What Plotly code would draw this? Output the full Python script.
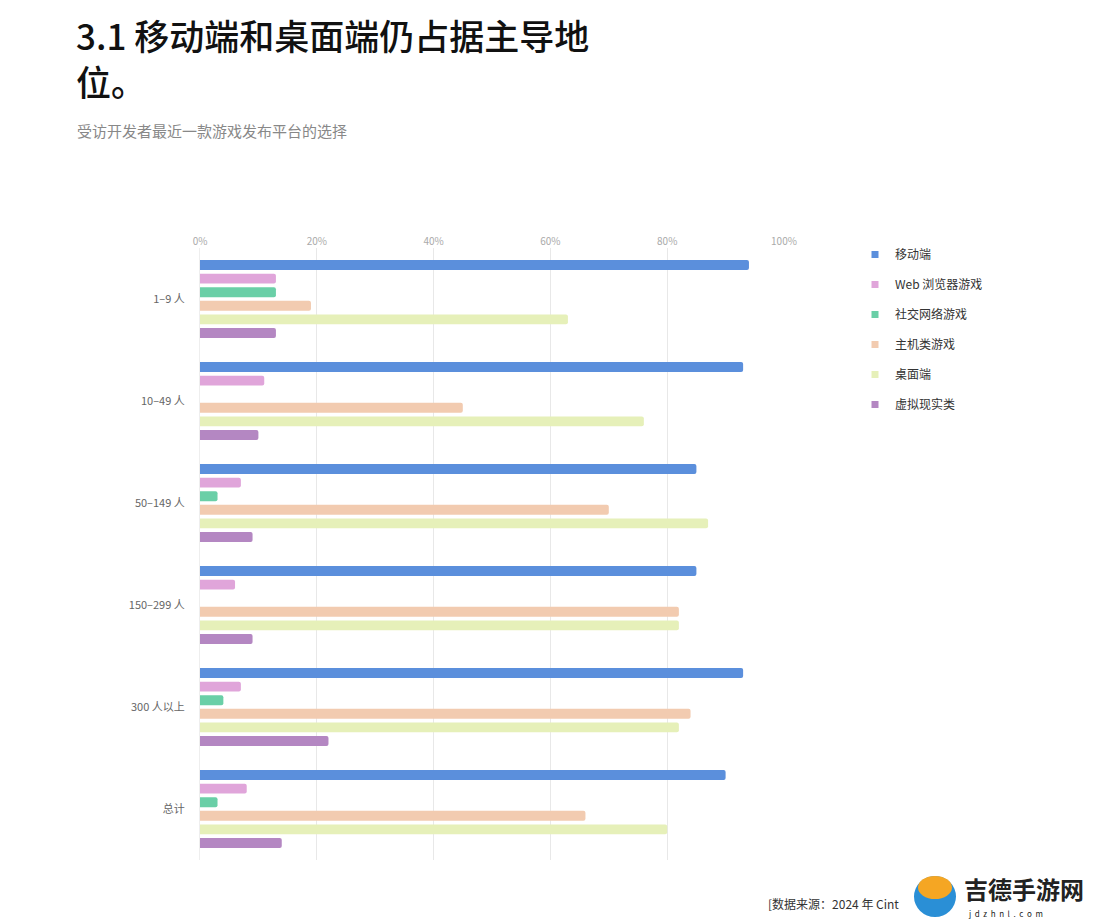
import plotly.graph_objects as go

categories = ["1–9 人", "10–49 人", "50–149 人", "150–299 人", "300 人以上", "总计"]
series_names = ["移动端", "Web 浏览器游戏", "社交网络游戏", "主机类游戏", "桌面端", "虚拟现实类"]
mobile = [94, 93, 85, 85, 93, 90]
web = [13, 11, 7, 6, 7, 8]
social = [13, None, 3, None, 4, 3]
console = [19, 45, 70, 82, 84, 66]
desktop = [63, 76, 87, 82, 82, 80]
vr = [13, 10, 9, 9, 22, 14]
series_values = [mobile, web, social, console, desktop, vr]
colors = ["#5b8fdc", "#e0a5da", "#6acfa7", "#f2cbb0", "#e6f0b9", "#b487c2"]
x_ticks = [0, 20, 40, 60, 80, 100]

FONT = "Noto Sans CJK SC, Inter, sans-serif"

OFF = 8  # page body margin
W, H = 1106 - OFF, 921 - OFF
# plot area in reference-page pixels
L, R, T, B = 200, 784, 248, 860
Lf, Rf, Tf, Bf = L - OFF, R - OFF, T - OFF, B - OFF

fig = go.Figure()
for name, vals, col in zip(series_names, series_values, colors):
    fig.add_trace(go.Bar(
        y=categories, x=vals, orientation="h", name=name,
        marker=dict(color=col, line=dict(width=0)),
        showlegend=False, hoverinfo="x+name",
    ))
for i, (name, col) in enumerate(zip(series_names, colors)):
    fig.add_trace(go.Scatter(
        x=[None], y=[None], mode="markers", name=name,
        marker=dict(symbol="square", size=7, color=col),
        legendgroup=f"g{i}", showlegend=True,
    ))

def px_x(x):
    return (x - L) / (R - L)

def px_y(y):
    return (B - y) / (B - T)

fig.update_layout(
    width=W, height=H,
    margin=dict(l=Lf, r=W - Rf, t=Tf, b=H - Bf, pad=0),
    paper_bgcolor="white", plot_bgcolor="white",
    barmode="group", bargap=0.2, bargroupgap=0.27,
    barcornerradius=2,
    font=dict(family=FONT, color="#444"),
    xaxis=dict(
        side="top", range=[0, 100], tickvals=x_ticks,
        ticktext=[f"{v}%" for v in x_ticks],
        tickfont=dict(size=10, color="#aaaaaa"),
        showgrid=True, gridcolor="#e8e8e8", gridwidth=1,
        zeroline=False, showline=False, ticks="", fixedrange=True,
    ),
    yaxis=dict(
        type="category", autorange="reversed",
        tickfont=dict(size=11, color="#666666"),
        showgrid=False, zeroline=False, showline=True,
        linecolor="#eeeeee", linewidth=1, ticks="",
        ticklabelstandoff=12,
    ),
    legend=dict(
        x=px_x(855), y=px_y(240), xanchor="left", yanchor="top",
        font=dict(size=12, color="#333333", family=FONT),
        traceorder="grouped", tracegroupgap=11,
        itemwidth=30, bgcolor="rgba(0,0,0,0)",
    ),
    annotations=[
        dict(text="3.1 移动端和桌面端仍占据主导地<br>位。", x=px_x(74), y=px_y(57),
             xref="paper", yref="paper", xanchor="left", yanchor="middle",
             align="left", showarrow=False,
             font=dict(size=35, color="#111111", family=FONT, weight=500)),
        dict(text="受访开发者最近一款游戏发布平台的选择", x=px_x(75), y=px_y(130),
             xref="paper", yref="paper", xanchor="left", yanchor="middle",
             showarrow=False, font=dict(size=15, color="#888888", family=FONT)),
        dict(text="[数据来源：2024 年 Cint", x=px_x(766), y=px_y(903),
             xref="paper", yref="paper", xanchor="left", yanchor="middle",
             showarrow=False, font=dict(size=12, color="#333333", family=FONT)),
        dict(text="<b>吉德手游网</b>", x=px_x(962), y=px_y(888),
             xref="paper", yref="paper", xanchor="left", yanchor="middle",
             showarrow=False, font=dict(size=24, color="#222222", family=FONT)),
        dict(text="j  d  z  h  n  l  .  c  o  m", x=px_x(966), y=px_y(913),
             xref="paper", yref="paper", xanchor="left", yanchor="middle",
             showarrow=False, font=dict(size=8, color="#222222", family=FONT)),
    ],
    shapes=[
        dict(type="circle", xref="paper", yref="paper",
             x0=px_x(914), x1=px_x(956), y0=px_y(917), y1=px_y(876),
             fillcolor="#2a8fd6", line=dict(width=0), layer="above"),
        dict(type="circle", xref="paper", yref="paper",
             x0=px_x(918), x1=px_x(952), y0=px_y(899), y1=px_y(876),
             fillcolor="#f5a623", line=dict(width=0), layer="above"),
    ],
)

fig.write_html("out.html")
